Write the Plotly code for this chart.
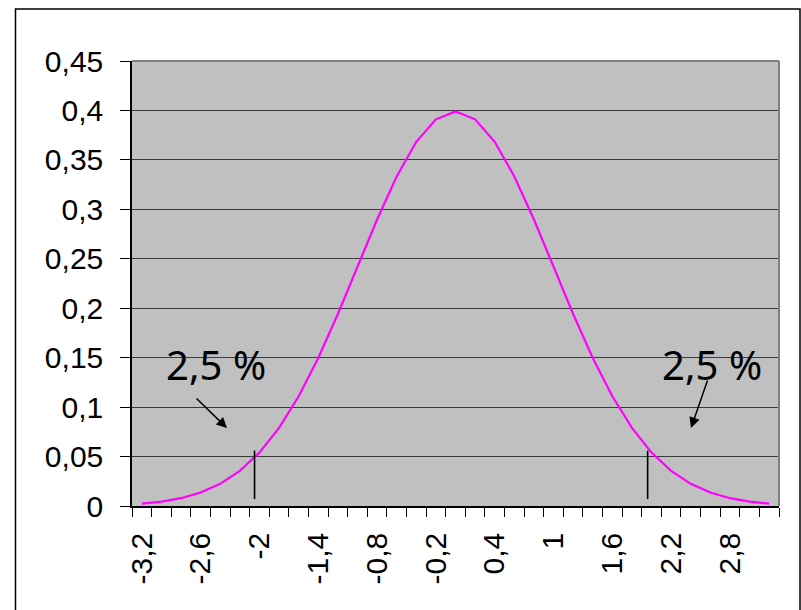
import plotly.graph_objects as go

# z values (category centres) and the standard normal density at each
z_values = [-3.2, -3.0, -2.8, -2.6, -2.4, -2.2, -2.0, -1.8, -1.6, -1.4, -1.2,
            -1.0, -0.8, -0.6, -0.4, -0.2, 0.0, 0.2, 0.4, 0.6, 0.8, 1.0,
            1.2, 1.4, 1.6, 1.8, 2.0, 2.2, 2.4, 2.6, 2.8, 3.0, 3.2]
density = [0.0024, 0.0044, 0.0079, 0.0136, 0.0224, 0.0355, 0.0540, 0.0790,
           0.1109, 0.1497, 0.1942, 0.2420, 0.2897, 0.3332, 0.3683, 0.3910,
           0.3989, 0.3910, 0.3683, 0.3332, 0.2897, 0.2420, 0.1942, 0.1497,
           0.1109, 0.0790, 0.0540, 0.0355, 0.0224, 0.0136, 0.0079, 0.0044,
           0.0024]

x_tick_vals = [-3.2, -2.6, -2.0, -1.4, -0.8, -0.2, 0.4, 1.0, 1.6, 2.2, 2.8]
x_tick_text = ["-3,2", "-2,6", "-2", "-1,4", "-0,8", "-0,2", "0,4", "1", "1,6", "2,2", "2,8"]
y_tick_vals = [0, 0.05, 0.1, 0.15, 0.2, 0.25, 0.3, 0.35, 0.4, 0.45]
y_tick_text = ["0", "0,05", "0,1", "0,15", "0,2", "0,25", "0,3", "0,35", "0,4", "0,45"]

# critical values marked under the tails, and the tail label
cut_x = [-2.05, 1.96]
cut_top = 0.056
tail_label = "2,5 %"

W, H = 801, 610
ML, MR, MT, MB = 132, 22, 61, 104
X0, X1 = -3.3, 3.3
Y0, Y1 = 0.0, 0.45


def px_to_x(px):
    return X0 + (px - ML) / (W - ML - MR) * (X1 - X0)


def px_to_y(py):
    return Y0 + (H - MB - py) / (H - MT - MB) * (Y1 - Y0)


def px_to_paper(px, py):
    return (px - ML) / (W - ML - MR), (H - MB - py) / (H - MT - MB)


axis_font = dict(family="Liberation Sans, Arial, sans-serif", size=30, color="black")

fig = go.Figure()
fig.add_trace(go.Scatter(
    x=z_values, y=density, mode="lines",
    line=dict(color="#FF00FF", width=2.2),
    hoverinfo="skip", showlegend=False,
))

# vertical markers at the critical values
for cx in cut_x:
    fig.add_shape(type="line", xref="x", yref="y", x0=cx, x1=cx, y0=0.007, y1=cut_top,
                  line=dict(color="black", width=1.6))

# plot-area border on top and right
fig.add_shape(type="line", xref="paper", yref="paper", x0=0, x1=1, y0=1, y1=1,
              line=dict(color="#808080", width=2))
fig.add_shape(type="line", xref="paper", yref="paper", x0=1, x1=1, y0=0, y1=1,
              line=dict(color="#808080", width=2))

# outer chart frame
fl, ft = px_to_paper(15.5, 9)
fr, fb = px_to_paper(800, 640)
fig.add_shape(type="rect", xref="paper", yref="paper", x0=fl, x1=fr, y0=fb, y1=ft,
              line=dict(color="black", width=1.5), fillcolor="rgba(0,0,0,0)", layer="below")

label_font = dict(family="Noto Sans, Calibri, sans-serif", size=40, color="black")
for cx_px, tail, tip in [(216, (195, 397), (227, 428)), (712, (708, 379), (691, 428))]:
    fig.add_annotation(x=px_to_x(cx_px), y=px_to_y(364), text=tail_label, showarrow=False,
                       font=label_font, xanchor="center", yanchor="middle")
    fig.add_annotation(x=px_to_x(tip[0]), y=px_to_y(tip[1]), ax=px_to_x(tail[0]), ay=px_to_y(tail[1]),
                       axref="x", ayref="y", text="", showarrow=True,
                       arrowhead=2, arrowsize=1.4, arrowwidth=1.5, arrowcolor="black")

fig.update_layout(
    width=W, height=H,
    margin=dict(l=ML, r=MR, t=MT, b=MB, pad=0),
    paper_bgcolor="white", plot_bgcolor="#C0C0C0",
    separators=", ",
    xaxis=dict(
        range=[X0, X1], tickmode="array", tickvals=x_tick_vals, ticktext=x_tick_text,
        tickangle=-90, tickfont=axis_font, ticks="", ticklen=0, ticklabelstandoff=13,
        showgrid=False, zeroline=False,
        showline=True, linecolor="black", linewidth=1.5,
        minor=dict(ticks="outside", tick0=-3.3, dtick=0.2, ticklen=9, tickcolor="black",
                   tickwidth=1.2, showgrid=False),
    ),
    yaxis=dict(
        range=[Y0, Y1], tickmode="array", tickvals=y_tick_vals, ticktext=y_tick_text,
        tickfont=axis_font, ticks="outside", ticklen=10, tickcolor="black", tickwidth=1.2,
        ticklabelstandoff=11,
        showgrid=True, gridcolor="#3a3a3a", gridwidth=1, zeroline=False,
        showline=True, linecolor="black", linewidth=1.5,
    ),
)

fig.write_html("out.html")
